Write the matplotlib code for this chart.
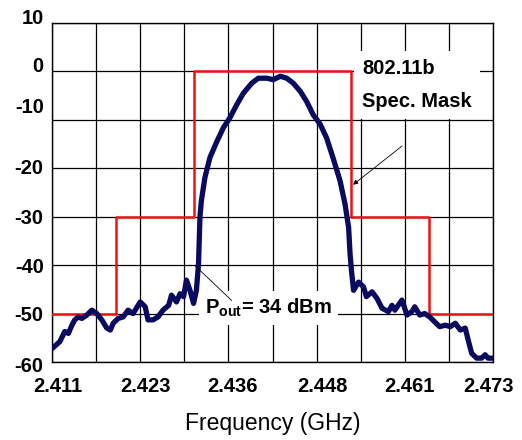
import matplotlib
matplotlib.use("Agg")
import matplotlib.pyplot as plt
from matplotlib.transforms import ScaledTranslation

plt.rcParams['font.family'] = ['Liberation Sans', 'DejaVu Sans']
plt.rcParams['axes.unicode_minus'] = False
plt.rcParams['mathtext.fontset'] = 'custom'
plt.rcParams['mathtext.rm'] = 'Liberation Sans:bold'
plt.rcParams['mathtext.bf'] = 'Liberation Sans:bold'

# measured output spectrum (GHz, dB)
freq_ghz = [2.4111, 2.4121, 2.4128, 2.4133, 2.4138, 2.4142, 2.4147, 2.4152, 2.4159,
            2.4166, 2.4173, 2.4180, 2.4187, 2.4192, 2.4196, 2.4203, 2.4210, 2.4217,
            2.4224, 2.4234, 2.4241, 2.4245, 2.4252, 2.4259, 2.4266, 2.4274, 2.4278,
            2.4285, 2.4290, 2.4295, 2.4299, 2.4304, 2.4309, 2.4313, 2.4316, 2.4318,
            2.4320, 2.4325, 2.4332, 2.4342, 2.4351, 2.4360, 2.4370, 2.4379, 2.4391,
            2.4400, 2.4412, 2.4421, 2.4431, 2.4440, 2.4449, 2.4459, 2.4468, 2.4477,
            2.4487, 2.4496, 2.4505, 2.4515, 2.4522, 2.4527, 2.4529, 2.4531, 2.4534,
            2.4541, 2.4548, 2.4552, 2.4560, 2.4567, 2.4574, 2.4583, 2.4588, 2.4592,
            2.4602, 2.4609, 2.4616, 2.4620, 2.4627, 2.4634, 2.4641, 2.4648, 2.4655,
            2.4663, 2.4670, 2.4677, 2.4684, 2.4691, 2.4695, 2.4700, 2.4707, 2.4714,
            2.4719, 2.4723, 2.4730]
level_db = [-57.1, -55.8, -53.7, -54.1, -52.4, -51.3, -50.7, -51.0, -50.3,
            -49.3, -50.0, -51.3, -53.0, -53.4, -52.0, -51.0, -50.7, -49.3,
            -50.0, -47.6, -48.6, -51.3, -51.3, -50.7, -49.3, -48.3, -46.2,
            -47.6, -45.9, -46.5, -43.1, -45.2, -47.9, -45.2, -39.7, -30.1,
            -26.7, -21.9, -17.8, -14.4, -11.6, -9.6, -6.8, -4.5, -2.4,
            -1.4, -1.4, -1.7, -1.0, -1.4, -2.4, -4.1, -6.2, -8.9,
            -10.9, -13.7, -17.8, -22.6, -27.4, -32.2, -37.6, -41.1, -45.2,
            -43.5, -44.5, -46.5, -45.5, -46.9, -48.9, -49.6, -48.3, -49.3,
            -47.2, -50.3, -49.6, -48.6, -50.3, -50.0, -50.7, -51.7, -52.7,
            -52.4, -52.7, -52.0, -53.4, -53.0, -55.4, -58.2, -59.2, -59.2,
            -58.5, -59.2, -59.2]

# 802.11b spectral mask
mask_freq = [2.411, 2.420, 2.420, 2.431, 2.431, 2.453, 2.453, 2.464, 2.464, 2.473]
mask_db = [-50, -50, -30, -30, 0, 0, -30, -30, -50, -50]

x_ticks = [2.411, 2.4234, 2.4358, 2.4482, 2.4606, 2.473]
x_labels = ['2.411', '2.423', '2.436', '2.448', '2.461', '2.473']
x_minor = [2.4172, 2.4296, 2.442, 2.4544, 2.4668]
y_ticks = [-60, -50, -40, -30, -20, -10, 0, 10]

fig = plt.figure(figsize=(5.22, 4.40), dpi=100)
ax = fig.add_axes([52 / 522, 1 - 362 / 440, 441 / 522, 339 / 440])

ax.plot(mask_freq, mask_db, color='#ee1111', linewidth=1.8, zorder=3)
ax.plot(freq_ghz, level_db, color='#0a0a5e', linewidth=3.8, zorder=4,
        solid_joinstyle='round')

ax.set_xlim(2.411, 2.473)
ax.set_ylim(-60, 10)
ax.set_xticks(x_ticks)
ax.set_xticklabels(x_labels)
ax.set_xticks(x_minor, minor=True)
ax.set_yticks(y_ticks)
ax.grid(True, which='both', color='black', linewidth=0.9)
ax.set_axisbelow(True)
ax.tick_params(which='both', length=0)
ax.tick_params(axis='y', pad=6)
ax.tick_params(axis='x', pad=11)
for lab in ax.get_xticklabels() + ax.get_yticklabels():
    lab.set_fontsize(14.5)
    lab.set_fontweight('bold')
for sp in ax.spines.values():
    sp.set_linewidth(1.0)

# shift some tick labels like the original
y_shift = [-2, 0, 0, 0, 1, 10, 5, 5]
for tk, dy in zip(ax.yaxis.get_major_ticks(), y_shift):
    tk.label1.set_transform(tk.label1.get_transform() +
                            ScaledTranslation(0, dy / 72, fig.dpi_scale_trans))
x_shift = [4, 4, 3, 4, 3, -3]
for tk, dx in zip(ax.xaxis.get_major_ticks(), x_shift):
    tk.label1.set_transform(tk.label1.get_transform() +
                            ScaledTranslation(dx / 72, 0, fig.dpi_scale_trans))

ax.set_xlabel('Frequency (GHz)', fontsize=16.5, labelpad=11)

ax.text(2.45458, -2.8, '802.11b\nSpec. Mask', fontsize=14.5, fontweight='bold',
        va='center', ha='left', linespacing=1.9, zorder=3,
        bbox=dict(boxstyle='square,pad=0.4', facecolor='white', edgecolor='none'))
ax.annotate('', xy=(2.45332, -23.4), xytext=(2.46021, -15.4),
            arrowprops=dict(arrowstyle='-|>', color='black', lw=0.6,
                            mutation_scale=7, shrinkA=0, shrinkB=0), zorder=5)

ax.text(2.43251, -48.9, r'$\mathbf{P_{out}}$= 34 dBm', fontsize=14.5,
        fontweight='bold', va='center', ha='left', zorder=3,
        bbox=dict(boxstyle='square,pad=0.3', facecolor='white', edgecolor='none'))
ax.annotate('', xy=(2.43110, -40.1), xytext=(2.43626, -47.3),
            arrowprops=dict(arrowstyle='-', color='black', lw=0.6,
                            shrinkA=0, shrinkB=0), zorder=5)

fig.savefig('out.png', dpi=100)
